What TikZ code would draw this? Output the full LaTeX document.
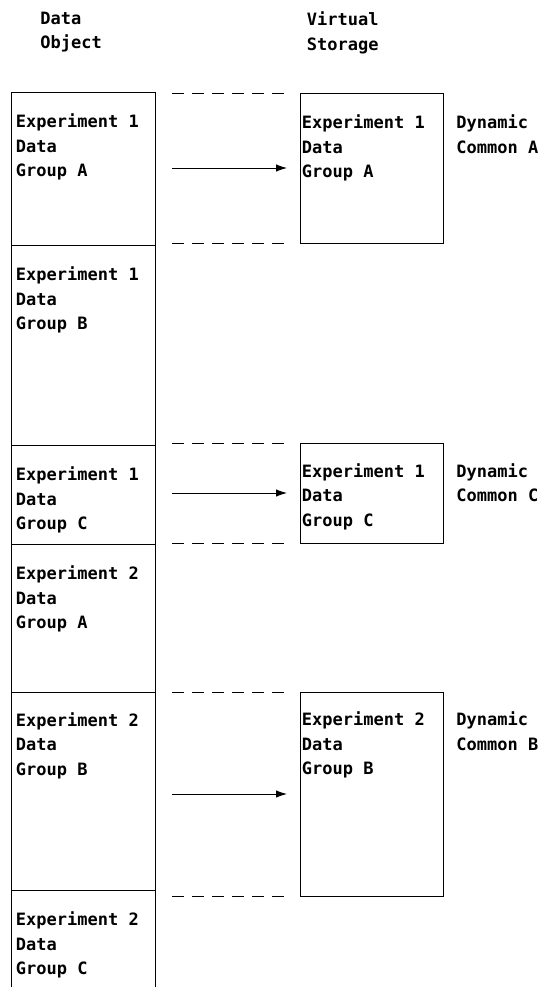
\documentclass[tikz,border=0pt]{standalone}
\usepackage{fontspec}
\setmonofont{DejaVu Sans Mono}
\usetikzlibrary{positioning,arrows.meta,calc}

\begin{document}
\begin{tikzpicture}[x=1pt,y=-1pt,line width=0.9pt,
  seg/.style={draw,anchor=north west,inner sep=0pt,outer sep=0pt,minimum width=144pt},
  vbox/.style={draw,anchor=north west,inner sep=0pt,outer sep=0pt,minimum width=143pt},
  txt/.style={anchor=north west,inner sep=0pt,align=left,font=\ttfamily\bfseries\fontsize{17}{24.5}\selectfont},
  guide/.style={dash pattern=on 12pt off 8pt},
  arr/.style={-{Latex[length=11pt,width=7.5pt]}}]
\useasboundingbox (0,0) rectangle (543,987);
\node[txt] (dataobj) at (40,11.5) {Data\\Object};
\node[txt] (virtstor) at (306.5,11.5) {Virtual\\Storage};
\node[seg,minimum height=153pt] (s1a) at (11,92) {};
\node[seg,minimum height=200pt] (s1b) at (11,245) {};
\node[seg,minimum height=99pt] (s1c) at (11,445) {};
\node[seg,minimum height=148pt] (s2a) at (11,544) {};
\node[seg,minimum height=198pt] (s2b) at (11,692) {};
\node[anchor=north west,inner sep=0pt,minimum width=144pt,minimum height=97pt] (s2c) at (11,890) {};
\draw (s2c.north west) -- (s2c.south west);
\draw (s2c.north east) -- (s2c.south east);
\node[txt] (t1a) at ([shift={(4.5,21.5)}]s1a.north west) {Experiment 1\\Data\\Group A};
\node[txt] (t1b) at ([shift={(4.5,21.5)}]s1b.north west) {Experiment 1\\Data\\Group B};
\node[txt] (t1c) at ([shift={(4.5,21.5)}]s1c.north west) {Experiment 1\\Data\\Group C};
\node[txt] (t2a) at ([shift={(4.5,21.5)}]s2a.north west) {Experiment 2\\Data\\Group A};
\node[txt] (t2b) at ([shift={(4.5,20)}]s2b.north west) {Experiment 2\\Data\\Group B};
\node[txt] (t2c) at ([shift={(4.5,21.5)}]s2c.north west) {Experiment 2\\Data\\Group C};
\node[vbox,minimum height=150pt] (v1a) at (300,93) {};
\node[vbox,minimum height=100pt] (v1c) at (300,443) {};
\node[vbox,minimum height=204pt] (v2b) at (300,692) {};
\node[txt] (u1a) at ([shift={(1.5,21.5)}]v1a.north west) {Experiment 1\\Data\\Group A};
\node[txt] (u1c) at ([shift={(1.5,20)}]v1c.north west) {Experiment 1\\Data\\Group C};
\node[txt] (u2b) at ([shift={(1.5,19.5)}]v2b.north west) {Experiment 2\\Data\\Group B};
\node[txt] (dyn1a) at ([shift={(154.5,0)}]u1a.north west) {Dynamic\\Common A};
\node[txt] (dyn1c) at ([shift={(154.5,0)}]u1c.north west) {Dynamic\\Common C};
\node[txt] (dyn2b) at ([shift={(154.5,0)}]u2b.north west) {Dynamic\\Common B};
\draw[guide] ([xshift=17pt]s1a.east |- v1a.north) -- ([xshift=-16pt]v1a.north west);
\draw[guide] ([xshift=17pt]s1a.east |- v1a.south) -- ([xshift=-16pt]v1a.south west);
\draw[guide] ([xshift=17pt]s1c.east |- v1c.north) -- ([xshift=-16pt]v1c.north west);
\draw[guide] ([xshift=17pt]s1c.east |- v1c.south) -- ([xshift=-16pt]v1c.south west);
\draw[guide] ([xshift=17pt]s2b.east |- v2b.north) -- ([xshift=-16pt]v2b.north west);
\draw[guide] ([xshift=17pt]s2b.east |- v2b.south) -- ([xshift=-16pt]v2b.south west);
\draw[arr] ([xshift=17pt]s1a.east |- v1a.west) -- ([xshift=-13pt]v1a.west);
\draw[arr] ([xshift=17pt]s1c.east |- v1c.west) -- ([xshift=-13pt]v1c.west);
\draw[arr] ([xshift=17pt]s2b.east |- v2b.west) -- ([xshift=-13pt]v2b.west);
\end{tikzpicture}
\end{document}
